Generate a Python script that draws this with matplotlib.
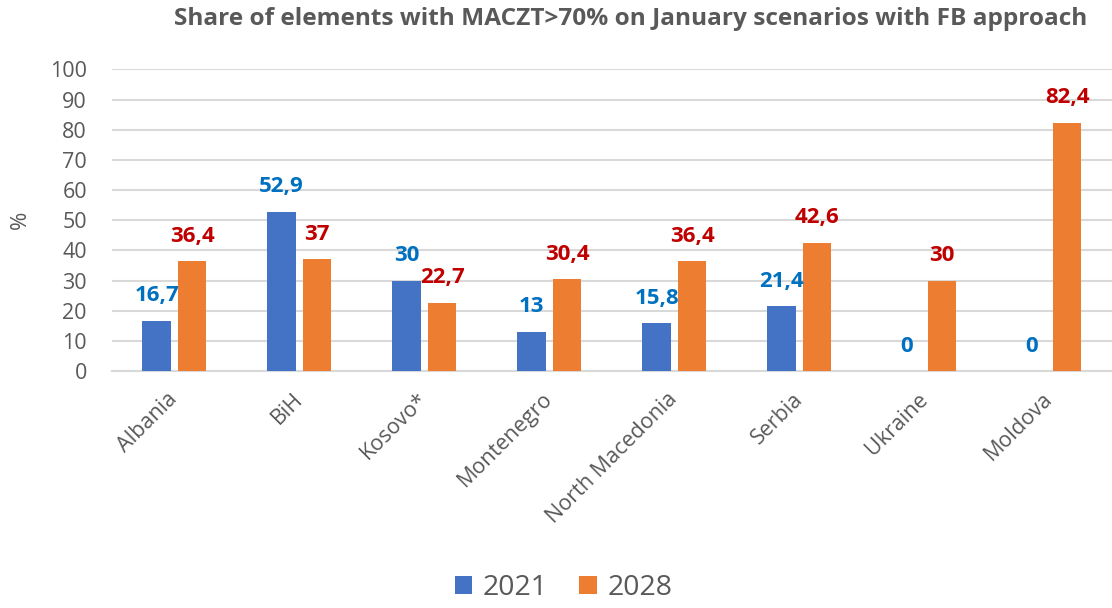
import numpy as np
import matplotlib.pyplot as plt

plt.rcParams["font.family"] = ["Open Sans", "DejaVu Sans"]

countries = ["Albania", "BiH", "Kosovo*", "Montenegro", "North Macedonia",
             "Serbia", "Ukraine", "Moldova"]
share_2021 = [16.7, 52.9, 30, 13, 15.8, 21.4, 0, 0]
share_2028 = [36.4, 37, 22.7, 30.4, 36.4, 42.6, 30, 82.4]

GREY = "#595959"
GRID = "#D9D9D9"


def fmt(v):
    s = f"{v:g}"
    return s.replace(".", ",")


fig = plt.figure(figsize=(11.12, 6.08), dpi=100)
ax = fig.add_axes([0.1007, 0.3898, 0.8993, 0.4959])

x = np.arange(len(countries))
w = 0.228
off = 0.142
b1 = ax.bar(x - off, share_2021, w, color="#4472C4", label="2021", zorder=3)
b2 = ax.bar(x + off, share_2028, w, color="#ED7D31", label="2028", zorder=3)

for bars, vals, col in [(b1, share_2021, "#0070C0"), (b2, share_2028, "#C00000")]:
    for r, v in zip(bars, vals):
        ax.annotate(fmt(v), (r.get_x() + r.get_width() / 2, v),
                    xytext=(0, 18), textcoords="offset points",
                    ha="center", va="center", fontsize=16,
                    fontweight="bold", color=col)

ax.set_xlim(-0.5, len(countries) - 0.5)
ax.set_ylim(0, 100)
ax.set_yticks(range(0, 101, 10))
ax.yaxis.grid(True, color=GRID, linewidth=1.5, zorder=0)
for s in ["top", "right", "left"]:
    ax.spines[s].set_visible(False)
ax.spines["bottom"].set_color(GRID)
ax.spines["bottom"].set_linewidth(1.5)
ax.tick_params(axis="both", length=0, labelsize=15.5, labelcolor=GREY)
ax.tick_params(axis="y", pad=18)
ax.set_xticks(x)
ax.set_xticklabels(countries, rotation=45, ha="right", va="center",
                   rotation_mode="anchor")
ax.tick_params(axis="x", pad=18)
ax.set_ylabel("%", fontsize=16, color=GREY, labelpad=14)

fig.text(0.567, 0.968, "Share of elements with MACZT>70% on January scenarios with FB approach",
         ha="center", va="center", fontsize=17.6, fontweight="bold", color=GREY)

fig.legend(handles=[b1, b2], loc="center", bbox_to_anchor=(0.507, 0.033),
           ncol=2, frameon=False, fontsize=20.5, labelcolor=GREY,
           handlelength=0.6, handleheight=0.6, handletextpad=0.4,
           columnspacing=1.1)

fig.savefig("out.png", dpi=100)
